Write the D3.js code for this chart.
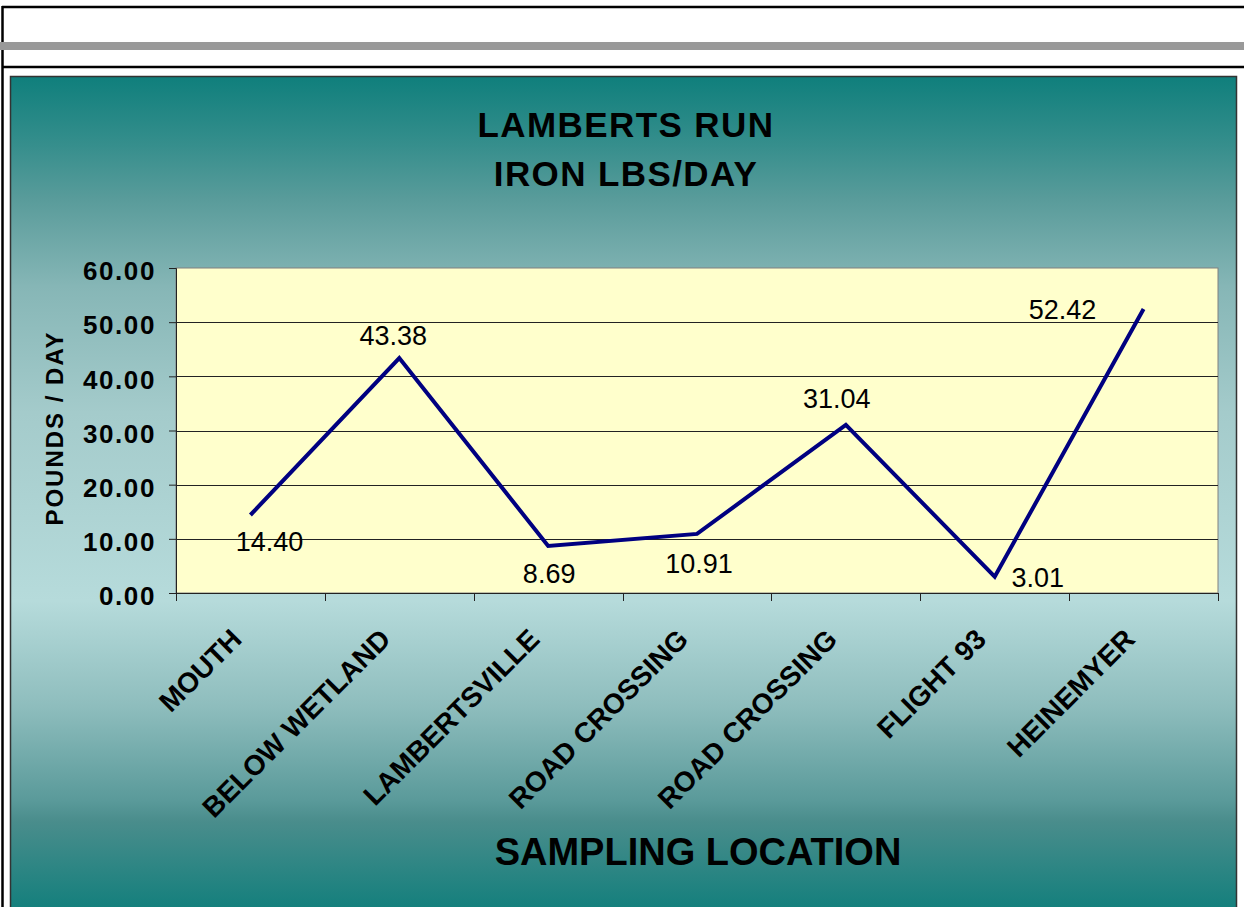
<!DOCTYPE html>
<html lang="en">

<head>
  <meta charset="utf-8">
  <title>Lamberts Run - Iron lbs/day</title>
  <script src="https://d3js.org/d3.v7.min.js"></script>
  <style>
    body {
      margin: 0;
      background: #fff;
    }

    svg text {
      font-family: Arial, "Liberation Sans", sans-serif;
    }
  </style>
</head>

<body>
  <div id="chart"></div>

  <script>
    // data
    var locations = ["MOUTH", "BELOW WETLAND", "LAMBERTSVILLE", "ROAD CROSSING",
      "ROAD CROSSING", "FLIGHT 93", "HEINEMYER"];
    var ironLbs = [14.40, 43.38, 8.69, 10.91, 31.04, 3.01, 52.42];
    var yTicks = [0, 10, 20, 30, 40, 50, 60];
    var titleLines = ["LAMBERTS RUN", "IRON LBS/DAY"];

    // where each value label sits, relative to its point (hand placed in the original)
    var labelNudge = [[19, 36], [-6, -13], [1, 37], [2, 39], [-9, -17], [43, 10], [-81, 10]];

    var w = 1244;
    var h = 907;

    var svg = d3.select("#chart")
      .append("svg")
      .attr("width", w)
      .attr("height", h);

    // page frame around the chart
    svg.append("line").attr("x1", 2).attr("x2", w).attr("y1", 7).attr("y2", 7)
      .attr("stroke", "#000").attr("stroke-width", 2.5);
    svg.append("line").attr("x1", 2.5).attr("x2", 2.5).attr("y1", 6).attr("y2", h)
      .attr("stroke", "#000").attr("stroke-width", 2.5);
    svg.append("rect").attr("x", 0).attr("y", 42).attr("width", w).attr("height", 8)
      .attr("fill", "#999");
    svg.append("line").attr("x1", 2).attr("x2", w).attr("y1", 67).attr("y2", 67)
      .attr("stroke", "#000").attr("stroke-width", 2.5);

    // background gradient of the chart area (teal -> pale -> teal)
    var defs = svg.append("defs");
    var grad = defs.append("linearGradient")
      .attr("id", "bg")
      .attr("x1", 0).attr("x2", 0).attr("y1", 0).attr("y2", 1);
    var stops = [
      [0, "#0f7f7c"], [0.08, "#358e8c"], [0.148, "#5a9c9b"], [0.25, "#86b6b6"],
      [0.4, "#a4cbcb"], [0.624, "#b6dbdb"], [0.75, "#8ebdbd"], [0.862, "#5a9a9a"],
      [0.886, "#4a8d8c"], [1, "#0f7e7b"]
    ];
    grad.selectAll("stop")
      .data(stops)
      .enter()
      .append("stop")
      .attr("offset", function (d) { return d[0]; })
      .attr("stop-color", function (d) { return d[1]; });

    svg.append("rect")
      .attr("x", 10.5).attr("y", 76.5)
      .attr("width", 1226).attr("height", 840)
      .attr("fill", "url(#bg)")
      .attr("stroke", "#333")
      .attr("stroke-width", 1.5);

    // plot area
    var plotLeft = 176, plotRight = 1218, plotTop = 268, plotBottom = 593;

    var x = d3.scaleBand()
      .domain(d3.range(locations.length))
      .range([plotLeft, plotRight])
      .padding(0);

    var y = d3.scaleLinear()
      .domain([0, 60])
      .range([plotBottom, plotTop]);

    svg.append("rect")
      .attr("x", plotLeft).attr("y", plotTop)
      .attr("width", plotRight - plotLeft).attr("height", plotBottom - plotTop)
      .attr("fill", "#ffffcc")
      .attr("stroke", "#808080")
      .attr("stroke-width", 1);

    // horizontal gridlines
    svg.append("g")
      .selectAll("line")
      .data(yTicks.filter(function (d) { return d > 0 && d < 60; }))
      .enter()
      .append("line")
      .attr("x1", plotLeft).attr("x2", plotRight)
      .attr("y1", function (d) { return Math.round(y(d)) + 0.5; })
      .attr("y2", function (d) { return Math.round(y(d)) + 0.5; })
      .attr("stroke", "#222")
      .attr("stroke-width", 1);

    // y axis
    var yAxis = svg.append("g")
      .attr("transform", "translate(" + plotLeft + ",0)")
      .call(d3.axisLeft(y).tickValues(yTicks).tickSize(7).tickPadding(13)
        .tickFormat(d3.format(".2f")));
    yAxis.select(".domain").attr("stroke", "#222");
    yAxis.selectAll(".tick line").attr("stroke", "#222");
    yAxis.selectAll("text")
      .attr("font-size", 26)
      .attr("font-weight", "bold")
      .attr("letter-spacing", "1.6px")
      .attr("fill", "#000")
      .attr("dy", "0.45em");

    // x axis: ticks sit between the categories
    svg.append("line")
      .attr("x1", plotLeft).attr("x2", plotRight)
      .attr("y1", plotBottom + 0.5).attr("y2", plotBottom + 0.5)
      .attr("stroke", "#222");
    var edges = d3.range(locations.length + 1);
    svg.append("g")
      .selectAll("line")
      .data(edges)
      .enter()
      .append("line")
      .attr("x1", function (i) { return Math.round(plotLeft + i * x.step()) + 0.5; })
      .attr("x2", function (i) { return Math.round(plotLeft + i * x.step()) + 0.5; })
      .attr("y1", plotBottom)
      .attr("y2", plotBottom + 8)
      .attr("stroke", "#222");

    svg.append("g")
      .selectAll("text")
      .data(locations)
      .enter()
      .append("text")
      .attr("transform", function (d, i) {
        var cx = x(i) + x.bandwidth() / 2;
        return "translate(" + (cx - 7) + ",641) rotate(-45)";
      })
      .attr("text-anchor", "end")
      .attr("font-size", 28)
      .attr("font-weight", "bold")
      .text(function (d) { return d; });

    // the line
    var line = d3.line()
      .x(function (d, i) { return x(i) + x.bandwidth() / 2; })
      .y(function (d) { return y(d); });

    svg.append("path")
      .datum(ironLbs)
      .attr("d", line)
      .attr("fill", "none")
      .attr("stroke", "#000080")
      .attr("stroke-width", 4)
      .attr("stroke-linejoin", "miter");

    // value labels
    svg.append("g")
      .selectAll("text")
      .data(ironLbs)
      .enter()
      .append("text")
      .attr("x", function (d, i) { return x(i) + x.bandwidth() / 2 + labelNudge[i][0]; })
      .attr("y", function (d, i) { return y(d) + labelNudge[i][1]; })
      .attr("text-anchor", "middle")
      .attr("font-size", 27)
      .text(function (d) { return d3.format(".2f")(d); });

    // titles
    svg.append("text")
      .attr("text-anchor", "middle")
      .attr("font-size", 35)
      .attr("font-weight", "bold")
      .attr("letter-spacing", "1.4px")
      .selectAll("tspan")
      .data(titleLines)
      .enter()
      .append("tspan")
      .attr("x", 626)
      .attr("y", function (d, i) { return 137 + i * 49; })
      .text(function (d) { return d; });

    svg.append("text")
      .attr("transform", "translate(63,428) rotate(-90)")
      .attr("text-anchor", "middle")
      .attr("font-size", 24)
      .attr("font-weight", "bold")
      .attr("letter-spacing", "2px")
      .text("POUNDS / DAY");

    svg.append("text")
      .attr("x", 698)
      .attr("y", 865)
      .attr("text-anchor", "middle")
      .attr("font-size", 38)
      .attr("font-weight", "bold")
      .text("SAMPLING LOCATION");
  </script>

</body>

</html>
